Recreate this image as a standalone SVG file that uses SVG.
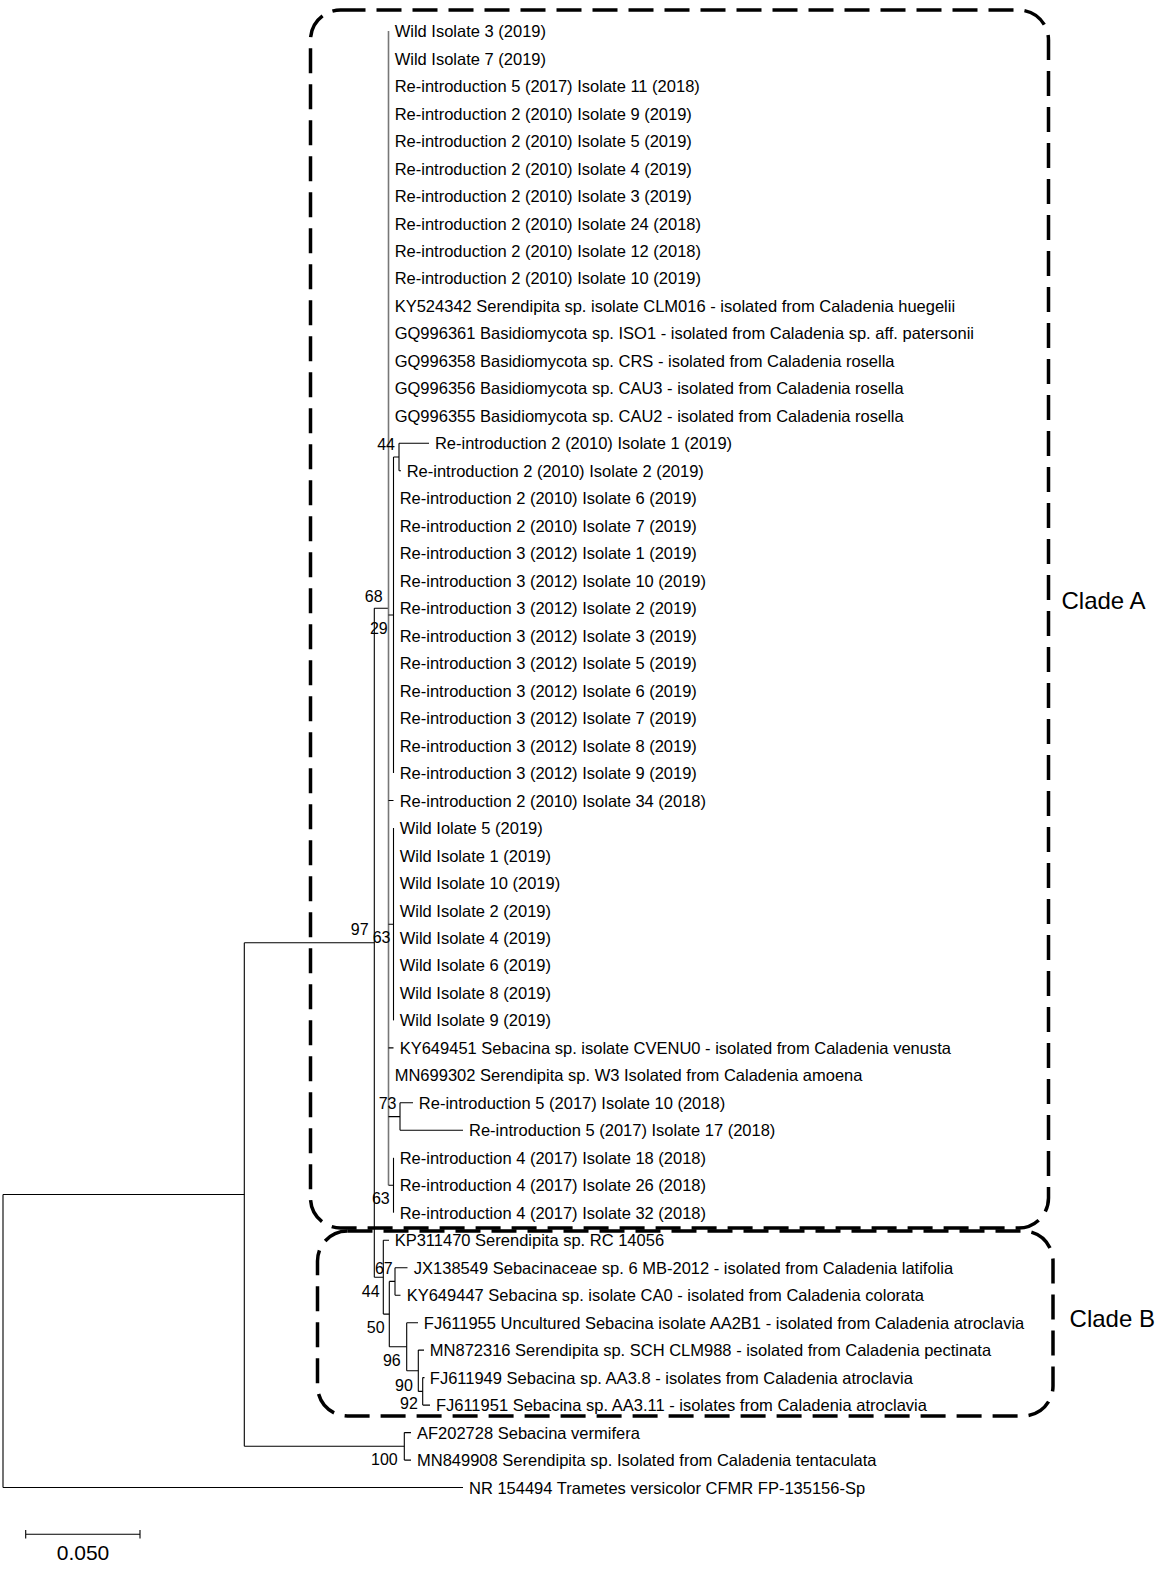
<svg xmlns="http://www.w3.org/2000/svg" width="1161" height="1575" viewBox="0 0 1161 1575">
<style>
.t{font-family:"Liberation Sans",Arial,sans-serif;font-size:16.5px;fill:#000}
.b{font-family:"Liberation Sans",Arial,sans-serif;font-size:16px;fill:#000;text-anchor:end}
.c{font-family:"Liberation Sans",Arial,sans-serif;font-size:24px;fill:#000}
.br{fill:none;stroke:#000;stroke-width:1.1}
.gr{fill:none;stroke:#777;stroke-width:1.6}
.box{fill:none;stroke:#000;stroke-width:3.5;stroke-dasharray:25 11}
</style>
<rect width="1161" height="1575" fill="#fff"/>
<g id="clade-boxes">
<rect id="cladeA-box" class="box" x="310.5" y="10" width="738" height="1218" rx="30"/>
<rect id="cladeB-box" class="box" x="317.5" y="1231" width="735.5" height="185" rx="30"/>
</g>
<g id="connectors">
<path class="br" d="M3,1194.5V1487.5M3,1194.5H244.3M3,1487.5H463"/>
<path class="br" d="M244.3,942.7V1446.3M244.3,942.7H374.3M244.3,1446.3H404.3"/>
<path class="br" d="M404.3,1432.6V1460.1M404.3,1432.6H411M404.3,1460.1H411"/>
<path class="br" d="M374.3,608.2V1277.2M374.3,608.2H388.5M374.3,1277.2H383.3"/>
<path class="gr" d="M388.5,31.1V1185.3"/>
<path class="br" d="M388.5,800.5H393.5M388.5,1047.9H393.5M388.5,615H393.5M388.5,924.2H393.5M388.5,1116.6H400M388.5,1185.3H393.5"/>
<path class="br" d="M393.5,457V773.1M393.5,457H399"/>
<path class="br" d="M399,443.3V470.8M399,443.3H429M399,470.8H401"/>
<path class="br" d="M393.5,828V1020.4"/>
<path class="br" d="M400,1102.8V1130.3M400,1102.8H413M400,1130.3H463"/>
<path class="br" d="M393.5,1157.8V1212.7"/>
<path class="br" d="M383.3,1240.2V1314.1M383.3,1240.2H389M383.3,1314.1H389.3"/>
<path class="br" d="M389.3,1281.4V1346.7M389.3,1281.4H395M389.3,1346.7H406.7"/>
<path class="br" d="M395,1267.7V1295.2M395,1267.7H407.5M395,1295.2H400.5"/>
<path class="br" d="M406.7,1322.7V1370.8M406.7,1322.7H418M406.7,1370.8H418.3"/>
<path class="br" d="M418.3,1350.1V1391.4M418.3,1350.1H424M418.3,1391.4H422.7"/>
<path class="br" d="M422.7,1377.6V1405.1M422.7,1377.6H424.5M422.7,1405.1H430"/>
</g>
<g id="taxa">
<g id="t0"><text class="t" x="394.7" y="37.1">Wild Isolate 3 (2019)</text></g>
<g id="t1"><text class="t" x="394.7" y="64.6">Wild Isolate 7 (2019)</text></g>
<g id="t2"><text class="t" x="394.7" y="92.1">Re-introduction 5 (2017) Isolate 11 (2018)</text></g>
<g id="t3"><text class="t" x="394.7" y="119.5">Re-introduction 2 (2010) Isolate 9 (2019)</text></g>
<g id="t4"><text class="t" x="394.7" y="147">Re-introduction 2 (2010) Isolate 5 (2019)</text></g>
<g id="t5"><text class="t" x="394.7" y="174.5">Re-introduction 2 (2010) Isolate 4 (2019)</text></g>
<g id="t6"><text class="t" x="394.7" y="202">Re-introduction 2 (2010) Isolate 3 (2019)</text></g>
<g id="t7"><text class="t" x="394.7" y="229.5">Re-introduction 2 (2010) Isolate 24 (2018)</text></g>
<g id="t8"><text class="t" x="394.7" y="256.9">Re-introduction 2 (2010) Isolate 12 (2018)</text></g>
<g id="t9"><text class="t" x="394.7" y="284.4">Re-introduction 2 (2010) Isolate 10 (2019)</text></g>
<g id="t10"><text class="t" x="394.7" y="311.9">KY524342 Serendipita sp. isolate CLM016 - isolated from Caladenia huegelii</text></g>
<g id="t11"><text class="t" x="394.7" y="339.4">GQ996361 Basidiomycota sp. ISO1 - isolated from Caladenia sp. aff. patersonii</text></g>
<g id="t12"><text class="t" x="394.7" y="366.9">GQ996358 Basidiomycota sp. CRS - isolated from Caladenia rosella</text></g>
<g id="t13"><text class="t" x="394.7" y="394.3">GQ996356 Basidiomycota sp. CAU3 - isolated from Caladenia rosella</text></g>
<g id="t14"><text class="t" x="394.7" y="421.8">GQ996355 Basidiomycota sp. CAU2 - isolated from Caladenia rosella</text></g>
<g id="t15"><text class="t" x="434.9" y="449.3">Re-introduction 2 (2010) Isolate 1 (2019)</text></g>
<g id="t16"><text class="t" x="406.7" y="476.8">Re-introduction 2 (2010) Isolate 2 (2019)</text></g>
<g id="t17"><text class="t" x="399.7" y="504.3">Re-introduction 2 (2010) Isolate 6 (2019)</text></g>
<g id="t18"><text class="t" x="399.7" y="531.7">Re-introduction 2 (2010) Isolate 7 (2019)</text></g>
<g id="t19"><text class="t" x="399.7" y="559.2">Re-introduction 3 (2012) Isolate 1 (2019)</text></g>
<g id="t20"><text class="t" x="399.7" y="586.7">Re-introduction 3 (2012) Isolate 10 (2019)</text></g>
<g id="t21"><text class="t" x="399.7" y="614.2">Re-introduction 3 (2012) Isolate 2 (2019)</text></g>
<g id="t22"><text class="t" x="399.7" y="641.7">Re-introduction 3 (2012) Isolate 3 (2019)</text></g>
<g id="t23"><text class="t" x="399.7" y="669.1">Re-introduction 3 (2012) Isolate 5 (2019)</text></g>
<g id="t24"><text class="t" x="399.7" y="696.6">Re-introduction 3 (2012) Isolate 6 (2019)</text></g>
<g id="t25"><text class="t" x="399.7" y="724.1">Re-introduction 3 (2012) Isolate 7 (2019)</text></g>
<g id="t26"><text class="t" x="399.7" y="751.6">Re-introduction 3 (2012) Isolate 8 (2019)</text></g>
<g id="t27"><text class="t" x="399.7" y="779.1">Re-introduction 3 (2012) Isolate 9 (2019)</text></g>
<g id="t28"><text class="t" x="399.7" y="806.5">Re-introduction 2 (2010) Isolate 34 (2018)</text></g>
<g id="t29"><text class="t" x="399.7" y="834">Wild Iolate 5 (2019)</text></g>
<g id="t30"><text class="t" x="399.7" y="861.5">Wild Isolate 1 (2019)</text></g>
<g id="t31"><text class="t" x="399.7" y="889">Wild Isolate 10 (2019)</text></g>
<g id="t32"><text class="t" x="399.7" y="916.5">Wild Isolate 2 (2019)</text></g>
<g id="t33"><text class="t" x="399.7" y="943.9">Wild Isolate 4 (2019)</text></g>
<g id="t34"><text class="t" x="399.7" y="971.4">Wild Isolate 6 (2019)</text></g>
<g id="t35"><text class="t" x="399.7" y="998.9">Wild Isolate 8 (2019)</text></g>
<g id="t36"><text class="t" x="399.7" y="1026.4">Wild Isolate 9 (2019)</text></g>
<g id="t37"><text class="t" x="399.7" y="1053.9">KY649451 Sebacina sp. isolate CVENU0 - isolated from Caladenia venusta</text></g>
<g id="t38"><text class="t" x="394.7" y="1081.3">MN699302 Serendipita sp. W3 Isolated from Caladenia amoena</text></g>
<g id="t39"><text class="t" x="418.8" y="1108.8">Re-introduction 5 (2017) Isolate 10 (2018)</text></g>
<g id="t40"><text class="t" x="469" y="1136.3">Re-introduction 5 (2017) Isolate 17 (2018)</text></g>
<g id="t41"><text class="t" x="399.7" y="1163.8">Re-introduction 4 (2017) Isolate 18 (2018)</text></g>
<g id="t42"><text class="t" x="399.7" y="1191.3">Re-introduction 4 (2017) Isolate 26 (2018)</text></g>
<g id="t43"><text class="t" x="399.7" y="1218.7">Re-introduction 4 (2017) Isolate 32 (2018)</text></g>
<g id="t44"><text class="t" x="394.7" y="1246.2">KP311470 Serendipita sp. RC 14056</text></g>
<g id="t45"><text class="t" x="413.8" y="1273.7">JX138549 Sebacinaceae sp. 6 MB-2012 - isolated from Caladenia latifolia</text></g>
<g id="t46"><text class="t" x="406.7" y="1301.2">KY649447 Sebacina sp. isolate CA0 - isolated from Caladenia colorata</text></g>
<g id="t47"><text class="t" x="423.8" y="1328.7">FJ611955 Uncultured Sebacina isolate AA2B1 - isolated from Caladenia atroclavia</text></g>
<g id="t48"><text class="t" x="429.8" y="1356.1">MN872316 Serendipita sp. SCH CLM988 - isolated from Caladenia pectinata</text></g>
<g id="t49"><text class="t" x="429.8" y="1383.6">FJ611949 Sebacina sp. AA3.8 - isolates from Caladenia atroclavia</text></g>
<g id="t50"><text class="t" x="435.9" y="1411.1">FJ611951 Sebacina sp. AA3.11 - isolates from Caladenia atroclavia</text></g>
<g id="t51"><text class="t" x="417" y="1438.6">AF202728 Sebacina vermifera</text></g>
<g id="t52"><text class="t" x="417" y="1466.1">MN849908 Serendipita sp. Isolated from Caladenia tentaculata</text></g>
<g id="t53"><text class="t" x="469" y="1493.5">NR 154494 Trametes versicolor CFMR FP-135156-Sp</text></g>
</g>
<g id="bootstrap">
<text class="b" x="395" y="450">44</text>
<text class="b" x="382.6" y="601.5">68</text>
<text class="b" x="387.7" y="633.7">29</text>
<text class="b" x="368.6" y="935">97</text>
<text class="b" x="390.5" y="943">63</text>
<text class="b" x="396.5" y="1108.7">73</text>
<text class="b" x="389.7" y="1204">63</text>
<text class="b" x="392.7" y="1274.4">67</text>
<text class="b" x="379.6" y="1296.5">44</text>
<text class="b" x="384.6" y="1332.7">50</text>
<text class="b" x="400.7" y="1365.8">96</text>
<text class="b" x="412.8" y="1391">90</text>
<text class="b" x="417.8" y="1409">92</text>
<text class="b" x="397.7" y="1465.2">100</text>
</g>
<g id="clade-labels">
<text class="c" x="1061.5" y="609">Clade A</text>
<text class="c" x="1069.6" y="1327">Clade B</text>
</g>
<g id="scale-bar">
<path class="br" d="M25.7,1534.3H140M25.7,1530V1538.5M140,1530V1538.5"/>
<text x="83" y="1560" font-family="Liberation Sans, Arial, sans-serif" font-size="21" text-anchor="middle">0.050</text>
</g>
</svg>
